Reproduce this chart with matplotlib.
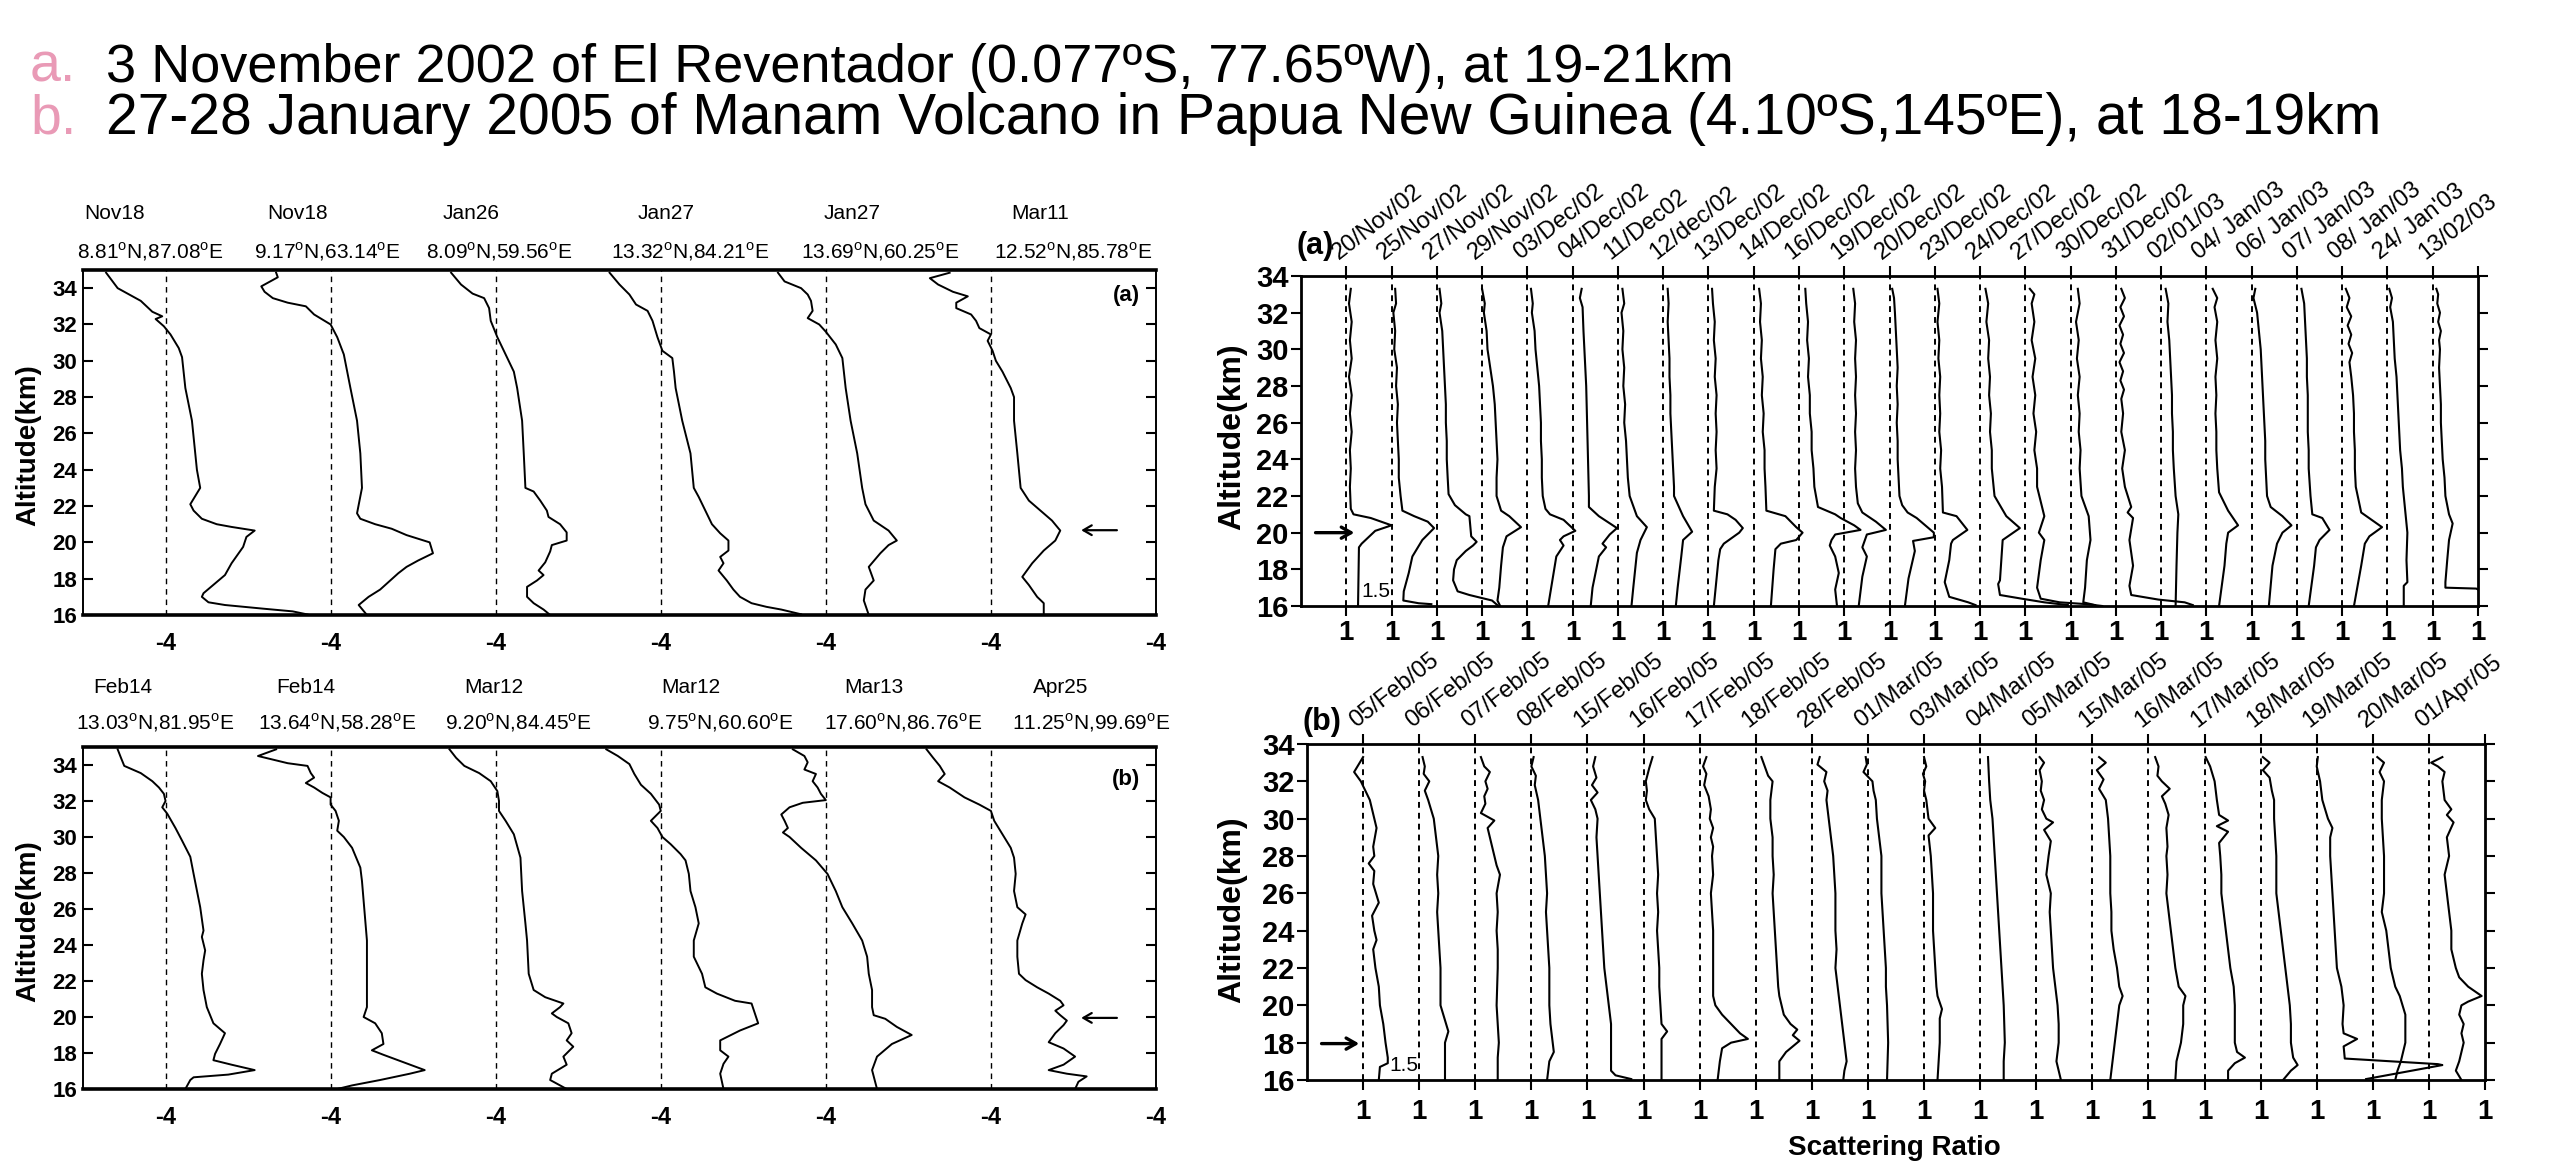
import matplotlib
matplotlib.use('Agg')
import matplotlib.pyplot as plt
import numpy as np

plt.rcParams['font.family'] = ['Liberation Sans', 'DejaVu Sans']
plt.rcParams['mathtext.fontset'] = 'custom'
plt.rcParams['mathtext.rm'] = 'Liberation Sans'

# ---------------- titles ----------------
TITLE_A = '3 November 2002 of El Reventador (0.077\u00baS, 77.65\u00baW), at 19-21km'
TITLE_B = '27-28 January 2005 of Manam Volcano in Papua New Guinea (4.10\u00baS,145\u00baE), at 18-19km'

# ---------------- left panels: log10 extinction profiles (ref -4 at each dotted line) ----------------
LA_DATES = ['Nov18', 'Nov18', 'Jan26', 'Jan27', 'Jan27', 'Mar11']
LA_LAT = ['8.81', '9.17', '8.09', '13.32', '13.69', '12.52']
LA_LON = ['87.08', '63.14', '59.56', '84.21', '60.25', '85.78']
LA_PROFILES = [
    [(34.85,-4.36),(34.0,-4.29),(33.3,-4.15),(32.7,-4.08),(32.45,-4.02),(32.3,-4.06),(31.9,-4.01),(31.45,-3.97),(30.7,-3.92),(30.2,-3.90),(28.5,-3.88),(26.7,-3.84),(24.0,-3.81),(23.0,-3.79),(22.1,-3.85),(21.75,-3.83),(21.3,-3.78),(21.0,-3.69),(20.85,-3.60),(20.65,-3.46),(20.3,-3.51),(19.75,-3.53),(18.85,-3.60),(18.2,-3.64),(17.2,-3.77),(17.0,-3.78),(16.7,-3.74),(16.55,-3.64),(16.35,-3.41),(16.2,-3.23),(16.03,-3.14)],
    [(34.85,-4.33),(34.6,-4.32),(34.1,-4.42),(33.8,-4.40),(33.45,-4.35),(33.2,-4.26),(33.0,-4.15),(32.55,-4.10),(32.0,-4.0),(31.3,-3.96),(30.35,-3.92),(28.5,-3.88),(26.7,-3.84),(24.9,-3.82),(23.0,-3.81),(21.6,-3.84),(21.3,-3.82),(21.0,-3.73),(20.75,-3.63),(20.4,-3.54),(20.0,-3.40),(19.4,-3.38),(19.0,-3.47),(18.65,-3.54),(18.3,-3.59),(17.4,-3.70),(17.0,-3.77),(16.55,-3.83),(16.0,-3.78)],
    [(34.85,-4.27),(34.2,-4.21),(33.7,-4.14),(33.45,-4.07),(32.9,-4.04),(32.2,-4.03),(31.3,-3.99),(30.35,-3.94),(29.4,-3.89),(28.5,-3.87),(26.7,-3.84),(24.9,-3.83),(23.0,-3.82),(22.8,-3.77),(22.3,-3.73),(21.75,-3.69),(21.4,-3.68),(21.0,-3.61),(20.55,-3.57),(20.1,-3.57),(19.85,-3.66),(19.5,-3.67),(18.9,-3.70),(18.45,-3.74),(18.2,-3.71),(17.9,-3.75),(17.55,-3.81),(17.0,-3.81),(16.65,-3.77),(16.3,-3.71),(16.0,-3.67)],
    [(34.85,-4.31),(34.2,-4.25),(33.65,-4.19),(33.1,-4.15),(32.75,-4.08),(32.2,-4.05),(31.3,-4.02),(30.55,-3.99),(30.15,-3.93),(29.4,-3.92),(28.5,-3.91),(26.7,-3.87),(24.9,-3.82),(23.0,-3.80),(22.5,-3.77),(21.75,-3.73),(21.0,-3.69),(20.5,-3.64),(20.1,-3.59),(19.55,-3.59),(19.2,-3.64),(18.85,-3.62),(18.45,-3.65),(17.9,-3.60),(17.4,-3.56),(17.0,-3.52),(16.65,-3.45),(16.45,-3.36),(16.3,-3.27),(16.04,-3.15)],
    [(34.85,-4.29),(34.37,-4.25),(34.0,-4.15),(33.65,-4.11),(33.3,-4.09),(32.75,-4.08),(32.35,-4.11),(32.0,-4.04),(31.6,-4.0),(30.9,-3.94),(30.15,-3.90),(28.5,-3.88),(26.7,-3.85),(24.9,-3.81),(23.0,-3.78),(22.1,-3.76),(21.2,-3.71),(20.65,-3.62),(20.1,-3.57),(19.85,-3.62),(19.4,-3.67),(18.65,-3.74),(17.9,-3.71),(17.4,-3.76),(16.8,-3.77),(16.0,-3.74)],
    [(34.85,-4.25),(34.55,-4.37),(34.2,-4.32),(33.8,-4.23),(33.55,-4.14),(33.2,-4.21),(32.9,-4.21),(32.55,-4.12),(32.2,-4.09),(31.8,-4.07),(31.45,-4.0),(31.1,-4.02),(30.55,-3.99),(30.0,-3.97),(29.4,-3.93),(28.5,-3.88),(28.0,-3.86),(26.7,-3.86),(24.9,-3.84),(23.0,-3.82),(22.3,-3.77),(21.75,-3.70),(21.2,-3.63),(20.65,-3.58),(20.1,-3.61),(19.55,-3.68),(18.85,-3.75),(18.1,-3.81),(17.65,-3.77),(17.0,-3.72),(16.65,-3.68),(16.0,-3.68)],
]

LB_DATES = ['Feb14', 'Feb14', 'Mar12', 'Mar12', 'Mar13', 'Apr25']
LB_LAT = ['13.03', '13.64', '9.20', '9.75', '17.60', '11.25']
LB_LON = ['81.95', '58.28', '84.45', '60.60', '86.76', '99.69']
LB_PROFILES = [
    [(34.87,-4.29),(34.4,-4.27),(33.95,-4.25),(33.55,-4.15),(33.1,-4.08),(32.75,-4.04),(32.4,-4.01),(32.0,-4.0),(31.65,-4.02),(31.3,-3.99),(30.5,-3.94),(29.8,-3.90),(28.9,-3.85),(27.95,-3.83),(26.1,-3.79),(24.8,-3.77),(24.45,-3.78),(23.7,-3.76),(23.15,-3.77),(22.4,-3.78),(21.5,-3.77),(20.55,-3.75),(19.65,-3.71),(19.1,-3.64),(18.5,-3.67),(17.95,-3.70),(17.6,-3.71),(17.35,-3.60),(17.05,-3.46),(16.8,-3.62),(16.65,-3.83),(16.5,-3.85),(16.0,-3.88)],
    [(34.87,-4.33),(34.5,-4.44),(34.1,-4.26),(33.95,-4.14),(33.55,-4.12),(33.3,-4.10),(33.0,-4.15),(32.75,-4.10),(32.45,-4.05),(32.2,-4.0),(31.8,-4.0),(31.45,-3.97),(30.9,-3.95),(30.35,-3.96),(30.0,-3.92),(29.4,-3.87),(28.3,-3.82),(27.55,-3.81),(26.45,-3.80),(24.25,-3.78),(22.4,-3.78),(20.55,-3.78),(20.0,-3.80),(19.65,-3.73),(19.1,-3.69),(18.5,-3.68),(18.15,-3.75),(17.9,-3.68),(17.05,-3.43),(16.85,-3.52),(16.5,-3.70),(16.2,-3.87),(16.0,-3.96)],
    [(34.87,-4.28),(34.4,-4.24),(33.95,-4.19),(33.55,-4.10),(33.1,-4.03),(32.55,-3.99),(32.0,-3.98),(31.45,-3.98),(30.9,-3.94),(30.15,-3.89),(28.85,-3.85),(27.0,-3.84),(25.2,-3.82),(24.25,-3.81),(22.4,-3.80),(21.5,-3.77),(21.1,-3.70),(20.75,-3.59),(20.55,-3.61),(20.2,-3.66),(20.0,-3.63),(19.65,-3.56),(19.1,-3.54),(18.7,-3.57),(18.35,-3.53),(17.8,-3.59),(17.35,-3.57),(16.85,-3.66),(16.5,-3.67),(16.0,-3.57)],
    [(34.87,-4.33),(34.5,-4.26),(34.05,-4.19),(33.5,-4.16),(32.9,-4.12),(32.4,-4.06),(31.8,-4.01),(31.45,-4.0),(30.9,-4.06),(30.5,-4.02),(30.0,-3.99),(29.6,-3.94),(29.05,-3.88),(28.7,-3.85),(27.95,-3.83),(27.0,-3.82),(26.1,-3.79),(25.2,-3.77),(24.25,-3.80),(23.35,-3.80),(22.4,-3.75),(21.65,-3.73),(21.3,-3.66),(20.9,-3.55),(20.75,-3.45),(20.2,-3.43),(19.65,-3.41),(19.25,-3.52),(18.7,-3.64),(18.15,-3.64),(17.8,-3.59),(17.4,-3.62),(16.85,-3.64),(16.0,-3.62)],
    [(34.87,-4.20),(34.5,-4.13),(34.15,-4.11),(33.75,-4.13),(33.5,-4.06),(33.1,-4.08),(32.75,-4.05),(32.4,-4.03),(32.05,-4.0),(31.9,-4.14),(31.65,-4.22),(31.25,-4.27),(30.9,-4.25),(30.5,-4.23),(30.25,-4.26),(30.0,-4.22),(29.4,-4.15),(28.7,-4.06),(27.95,-3.99),(27.0,-3.94),(26.1,-3.90),(25.2,-3.84),(24.25,-3.78),(23.35,-3.75),(22.4,-3.74),(21.5,-3.72),(20.55,-3.72),(20.1,-3.71),(19.9,-3.64),(19.45,-3.57),(19.0,-3.48),(18.5,-3.60),(17.8,-3.69),(17.05,-3.72),(16.0,-3.69)],
    [(34.87,-4.39),(34.4,-4.35),(33.95,-4.31),(33.5,-4.28),(33.1,-4.32),(32.75,-4.25),(32.2,-4.16),(31.8,-4.07),(31.45,-4.0),(30.9,-3.98),(30.15,-3.93),(29.4,-3.88),(28.85,-3.86),(27.95,-3.85),(27.0,-3.86),(26.1,-3.84),(25.7,-3.79),(25.2,-3.81),(24.25,-3.84),(23.35,-3.84),(22.4,-3.83),(22.05,-3.79),(21.65,-3.72),(21.3,-3.65),(20.9,-3.58),(20.65,-3.56),(20.35,-3.61),(20.1,-3.58),(19.8,-3.54),(19.55,-3.56),(19.1,-3.61),(18.6,-3.65),(18.25,-3.56),(17.8,-3.49),(17.35,-3.56),(17.05,-3.65),(16.85,-3.54),(16.7,-3.42),(16.4,-3.47),(16.0,-3.49)],
]
LEFT_REF = -4.0
LEFT_TICKLABEL = '-4'

# ---------------- right panels: scattering ratio profiles (1 at each dotted line) ----------------
RA_DATES = ['20/Nov/02', '25/Nov/02', '27/Nov/02', '29/Nov/02', '03/Dec/02', '04/Dec/02', '11/Dec02',
            '12/dec/02', '13/Dec/02', '14/Dec/02', '16/Dec/02', '19/Dec/02', '20/Dec/02', '23/Dec/02',
            '24/Dec/02', '27/Dec/02', '30/Dec/02', '31/Dec/02', '02/01/03', '04/ Jan/03', '06/ Jan/03',
            '07/ Jan/03', '08/ Jan/03', "24/ Jan'03", '13/02/03']
RA_PROFILES = [
    [(33.3,1.05),(32.5,1.03),(31.5,1.06),(30.5,1.04),(29.5,1.06),(28.5,1.03),(27.5,1.06),(26.5,1.04),(25.5,1.06),(24.5,1.04),(23.5,1.05),(22.5,1.04),(21.3,1.05),(21.0,1.08),(20.8,1.27),(20.4,1.5),(20.1,1.32),(19.4,1.17),(19.2,1.14),(16.0,1.13)],
    [(33.3,1.04),(32.5,1.05),(32.0,1.02),(31.0,1.04),(30.0,1.03),(29.0,1.06),(28.0,1.05),(27.0,1.07),(26.0,1.06),(25.0,1.07),(24.0,1.08),(23.0,1.08),(22.0,1.1),(21.2,1.12),(20.9,1.25),(20.6,1.4),(20.25,1.47),(19.6,1.34),(18.7,1.23),(17.8,1.19),(16.8,1.135),(16.3,1.13),(16.15,1.3),(16.1,1.44)],
    [(33.3,1.03),(32.5,1.05),(32.0,1.03),(31.0,1.06),(30.0,1.07),(29.0,1.08),(28.0,1.09),(27.0,1.1),(26.0,1.1),(25.0,1.11),(24.0,1.11),(23.0,1.12),(22.1,1.13),(21.5,1.2),(21.0,1.32),(20.9,1.36),(19.8,1.38),(19.5,1.44),(19.3,1.4),(19.0,1.32),(18.5,1.22),(18.0,1.19),(17.4,1.18),(16.8,1.23),(16.6,1.36),(16.3,1.61),(16.0,1.68)],
    [(33.3,1.0),(32.5,1.03),(32.0,1.02),(31.0,1.05),(30.0,1.06),(29.0,1.09),(28.0,1.12),(27.0,1.14),(26.0,1.15),(25.0,1.16),(24.0,1.17),(23.0,1.16),(22.0,1.16),(21.2,1.21),(20.9,1.3),(20.3,1.43),(19.8,1.27),(19.2,1.23),(18.2,1.21),(17.0,1.19),(16.3,1.17),(16.0,1.2)],
    [(33.3,1.04),(32.5,1.06),(32.0,1.05),(31.0,1.08),(30.0,1.09),(29.0,1.11),(28.0,1.13),(27.0,1.14),(26.0,1.15),(25.0,1.15),(24.0,1.16),(23.0,1.16),(22.0,1.17),(21.3,1.2),(21.0,1.25),(20.7,1.4),(20.1,1.53),(19.8,1.4),(19.6,1.36),(19.3,1.4),(18.7,1.32),(17.5,1.28),(16.0,1.23)],
    [(33.3,1.1),(32.8,1.08),(32.3,1.11),(31.0,1.12),(30.0,1.13),(28.0,1.15),(26.0,1.16),(24.0,1.17),(22.0,1.18),(21.4,1.18),(20.9,1.29),(20.25,1.49),(19.9,1.41),(19.4,1.33),(19.2,1.37),(18.7,1.29),(17.0,1.22),(16.0,1.2)],
    [(33.3,1.05),(32.5,1.07),(32.0,1.04),(31.0,1.06),(30.0,1.05),(29.0,1.07),(28.0,1.06),(27.0,1.08),(26.0,1.07),(25.0,1.09),(24.0,1.1),(23.0,1.11),(22.0,1.13),(20.9,1.21),(20.3,1.32),(19.6,1.25),(18.9,1.21),(17.0,1.17),(16.0,1.15)],
    [(33.3,1.05),(32.5,1.06),(31.5,1.05),(30.5,1.06),(29.5,1.07),(28.5,1.07),(27.5,1.08),(26.5,1.08),(25.5,1.09),(24.5,1.1),(23.5,1.11),(22.5,1.12),(22.0,1.12),(20.9,1.22),(20.05,1.32),(19.6,1.22),(18.7,1.2),(17.0,1.16),(16.0,1.14)],
    [(33.3,1.04),(32.5,1.05),(31.5,1.07),(30.5,1.06),(29.5,1.08),(28.5,1.07),(27.5,1.09),(26.5,1.08),(25.5,1.09),(24.5,1.08),(23.5,1.09),(22.5,1.07),(21.2,1.06),(21.0,1.21),(20.7,1.3),(20.25,1.38),(20.0,1.34),(19.4,1.17),(19.1,1.13),(18.5,1.11),(17.0,1.08),(16.0,1.06)],
    [(33.3,1.06),(32.5,1.08),(31.5,1.07),(30.5,1.09),(29.5,1.08),(28.5,1.1),(27.5,1.09),(26.5,1.11),(25.5,1.1),(24.5,1.12),(23.5,1.12),(22.5,1.13),(21.2,1.14),(20.9,1.35),(20.3,1.47),(20.0,1.54),(19.6,1.47),(19.4,1.3),(19.1,1.24),(18.0,1.22),(16.0,1.19)],
    [(33.3,1.07),(32.5,1.08),(31.5,1.1),(30.5,1.09),(29.5,1.11),(28.5,1.1),(27.5,1.12),(26.5,1.12),(25.5,1.14),(24.5,1.14),(23.5,1.16),(22.5,1.17),(21.4,1.21),(21.0,1.4),(20.8,1.46),(20.4,1.61),(20.15,1.68),(19.9,1.4),(19.6,1.36),(19.3,1.34),(18.7,1.4),(17.8,1.44),(16.9,1.4),(16.0,1.42)],
    [(33.3,1.1),(32.5,1.12),(31.5,1.11),(30.5,1.13),(29.5,1.12),(28.5,1.13),(27.5,1.12),(26.5,1.13),(25.5,1.12),(24.5,1.13),(23.5,1.12),(22.5,1.13),(21.6,1.15),(21.1,1.2),(20.6,1.35),(20.15,1.46),(19.9,1.25),(19.2,1.2),(18.7,1.25),(17.6,1.2),(16.0,1.16)],
    [(33.3,1.03),(32.8,1.05),(32.0,1.06),(31.0,1.07),(30.0,1.08),(29.0,1.09),(28.0,1.08),(27.0,1.09),(26.0,1.08),(25.0,1.09),(24.0,1.09),(23.0,1.1),(22.0,1.11),(21.5,1.14),(21.1,1.2),(20.8,1.3),(20.0,1.49),(19.75,1.49),(19.55,1.26),(19.0,1.28),(17.5,1.21),(16.0,1.17)],
    [(33.3,1.03),(32.5,1.05),(31.5,1.03),(30.5,1.05),(29.5,1.04),(28.5,1.06),(27.5,1.05),(26.5,1.06),(25.5,1.05),(24.5,1.07),(23.5,1.06),(22.5,1.08),(21.1,1.09),(20.9,1.24),(20.15,1.36),(19.6,1.2),(19.4,1.18),(18.5,1.16),(17.3,1.11),(16.5,1.16),(16.2,1.37),(16.05,1.45)],
    [(33.3,1.06),(32.5,1.09),(31.5,1.07),(30.5,1.1),(29.5,1.09),(28.5,1.11),(27.5,1.1),(26.5,1.12),(25.5,1.11),(24.5,1.13),(23.5,1.13),(22.5,1.15),(22.0,1.16),(20.9,1.29),(20.25,1.44),(19.6,1.25),(17.4,1.22),(17.2,1.2),(16.6,1.22),(16.4,1.46),(16.2,1.71),(16.05,1.97)],
    [(33.3,1.05),(33.0,1.1),(32.5,1.07),(31.5,1.1),(30.5,1.07),(29.5,1.11),(28.5,1.08),(27.5,1.11),(26.5,1.09),(25.5,1.12),(24.5,1.1),(23.5,1.13),(22.5,1.13),(20.9,1.21),(20.0,1.15),(19.6,1.21),(18.5,1.17),(17.0,1.13),(16.4,1.17),(16.2,1.38),(16.1,1.68),(16.0,1.85)],
    [(33.3,1.08),(32.5,1.1),(31.5,1.06),(30.5,1.09),(29.5,1.07),(28.5,1.1),(27.5,1.08),(26.5,1.1),(25.5,1.09),(24.5,1.11),(23.5,1.1),(22.0,1.12),(20.9,1.2),(19.6,1.22),(18.5,1.18),(17.0,1.16),(16.2,1.14),(16.05,1.27)],
    [(33.3,1.06),(32.8,1.1),(32.3,1.05),(31.8,1.09),(31.3,1.04),(30.8,1.08),(30.3,1.05),(29.8,1.09),(29.3,1.04),(28.8,1.08),(28.3,1.05),(27.8,1.09),(27.3,1.06),(26.5,1.08),(25.5,1.06),(24.5,1.1),(23.5,1.07),(22.5,1.1),(21.4,1.17),(21.1,1.13),(20.8,1.19),(19.6,1.15),(18.2,1.19),(17.1,1.15),(16.6,1.17),(16.35,1.47),(16.2,1.76),(16.05,1.85)],
    [(33.3,1.05),(32.5,1.08),(31.5,1.07),(30.5,1.09),(29.5,1.1),(28.5,1.11),(27.5,1.12),(26.5,1.12),(25.5,1.13),(24.5,1.13),(23.5,1.14),(22.0,1.16),(21.0,1.19),(20.0,1.18),(18.2,1.17),(16.0,1.16)],
    [(33.3,1.07),(32.8,1.12),(32.3,1.09),(31.5,1.12),(30.5,1.1),(29.5,1.12),(28.5,1.1),(27.5,1.11),(26.5,1.1),(25.5,1.11),(24.5,1.11),(23.5,1.12),(22.2,1.14),(21.2,1.24),(20.4,1.35),(20.0,1.24),(19.4,1.22),(18.2,1.2),(16.0,1.14)],
    [(33.3,1.04),(32.8,1.02),(32.0,1.06),(31.0,1.08),(30.0,1.1),(29.0,1.11),(28.0,1.12),(27.0,1.13),(26.0,1.14),(25.0,1.15),(24.0,1.15),(23.0,1.16),(22.0,1.17),(21.4,1.21),(20.9,1.34),(20.4,1.44),(20.0,1.34),(19.4,1.28),(18.2,1.23),(16.0,1.19)],
    [(33.3,1.05),(32.5,1.08),(31.5,1.09),(30.5,1.1),(29.5,1.11),(28.5,1.11),(27.5,1.12),(26.5,1.12),(25.5,1.12),(24.5,1.13),(23.5,1.13),(22.0,1.15),(21.0,1.17),(20.8,1.28),(20.15,1.36),(19.6,1.25),(19.2,1.21),(18.2,1.19),(16.0,1.13)],
    [(33.3,1.04),(32.8,1.08),(32.3,1.05),(31.8,1.1),(31.3,1.06),(30.8,1.1),(30.3,1.07),(29.8,1.11),(29.3,1.08),(28.5,1.1),(27.5,1.12),(26.5,1.13),(25.5,1.13),(24.5,1.14),(23.5,1.14),(22.5,1.15),(21.1,1.21),(20.3,1.44),(19.8,1.3),(19.4,1.25),(18.2,1.21),(16.0,1.13)],
    [(33.3,1.02),(32.8,1.05),(32.3,1.03),(31.5,1.06),(30.5,1.07),(29.5,1.08),(28.5,1.1),(27.5,1.11),(26.5,1.12),(25.5,1.13),(24.5,1.14),(23.5,1.16),(22.5,1.17),(21.0,1.2),(20.0,1.22),(18.5,1.21),(17.3,1.22),(17.1,1.18),(16.0,1.18)],
    [(33.3,1.04),(33.0,1.06),(32.5,1.05),(32.0,1.08),(31.5,1.06),(31.0,1.09),(30.5,1.07),(30.0,1.08),(29.0,1.07),(28.0,1.08),(27.0,1.09),(26.0,1.09),(25.0,1.1),(24.0,1.11),(23.0,1.13),(22.0,1.14),(21.0,1.18),(20.5,1.22),(19.6,1.18),(18.5,1.16),(17.3,1.14),(17.0,1.14),(16.95,1.48),(16.85,1.52)],
]

RB_DATES = ['05/Feb/05', '06/Feb/05', '07/Feb/05', '08/Feb/05', '15/Feb/05', '16/Feb/05', '17/Feb/05',
            '18/Feb/05', '28/Feb/05', '01/Mar/05', '03/Mar/05', '04/Mar/05', '05/Mar/05', '15/Mar/05',
            '16/Mar/05', '17/Mar/05', '18/Mar/05', '19/Mar/05', '20/Mar/05', '01/Apr/05']
RB_PROFILES = [
    [(33.3,1.0),(32.9,0.96),(32.5,0.92),(32.0,0.98),(31.5,1.02),(31.0,1.06),(30.0,1.10),(29.5,1.12),(28.5,1.09),(28.0,1.10),(27.6,1.05),(27.2,1.10),(26.5,1.09),(25.5,1.14),(24.8,1.08),(24.0,1.10),(23.5,1.12),(23.0,1.09),(22.0,1.11),(21.0,1.14),(20.0,1.15),(19.0,1.18),(18.0,1.20),(17.2,1.22),(16.9,1.22),(16.7,1.15),(16.0,1.14)],
    [(33.3,1.03),(32.8,1.05),(32.4,1.04),(32.0,1.09),(31.5,1.05),(31.0,1.08),(30.0,1.13),(29.0,1.15),(28.0,1.17),(27.0,1.16),(26.0,1.17),(25.0,1.16),(24.0,1.17),(23.0,1.18),(22.0,1.19),(21.0,1.19),(20.0,1.19),(19.2,1.23),(18.6,1.26),(18.0,1.23),(17.0,1.23),(16.0,1.23)],
    [(33.3,1.05),(32.8,1.08),(32.5,1.13),(32.0,1.09),(31.6,1.11),(31.2,1.08),(30.8,1.09),(30.3,1.05),(29.9,1.17),(29.5,1.11),(28.5,1.15),(27.5,1.19),(27.0,1.22),(26.0,1.19),(25.0,1.2),(24.0,1.19),(23.0,1.2),(22.0,1.2),(20.0,1.19),(19.0,1.2),(18.0,1.21),(17.2,1.2),(16.0,1.2)],
    [(33.3,1.02),(32.8,1.0),(32.3,1.04),(31.8,1.03),(31.0,1.06),(30.0,1.08),(29.0,1.1),(28.0,1.12),(27.0,1.13),(26.0,1.14),(25.0,1.13),(24.0,1.14),(23.0,1.15),(22.0,1.16),(21.0,1.16),(20.0,1.16),(19.0,1.17),(18.5,1.18),(17.5,1.2),(17.0,1.16),(16.0,1.14)],
    [(33.3,1.07),(32.8,1.05),(32.2,1.08),(31.8,1.04),(31.4,1.09),(31.0,1.03),(30.5,1.07),(30.0,1.09),(29.0,1.08),(28.0,1.09),(27.0,1.1),(26.0,1.11),(25.0,1.12),(24.0,1.13),(23.0,1.14),(22.0,1.15),(21.0,1.17),(20.0,1.19),(19.0,1.21),(17.5,1.21),(16.5,1.21),(16.25,1.25),(16.05,1.39)],
    [(33.3,1.08),(32.7,1.05),(32.0,1.02),(31.5,1.03),(31.0,1.02),(30.5,1.05),(30.0,1.1),(29.0,1.11),(28.0,1.12),(27.0,1.13),(26.0,1.12),(25.0,1.13),(24.0,1.12),(23.0,1.13),(22.0,1.14),(21.0,1.14),(20.0,1.15),(19.0,1.16),(18.6,1.21),(18.2,1.16),(17.0,1.16),(16.0,1.16)],
    [(33.3,1.06),(32.8,1.03),(32.4,1.06),(31.8,1.04),(31.2,1.08),(30.5,1.1),(30.0,1.09),(29.5,1.12),(29.0,1.1),(28.5,1.12),(28.0,1.11),(27.0,1.12),(26.0,1.1),(25.0,1.11),(24.0,1.12),(23.0,1.12),(22.0,1.12),(20.5,1.12),(20.0,1.14),(19.5,1.2),(19.0,1.28),(18.5,1.36),(18.2,1.43),(18.0,1.28),(17.7,1.2),(17.0,1.18),(16.0,1.16)],
    [(33.3,1.05),(32.8,1.08),(32.3,1.11),(32.0,1.15),(31.0,1.13),(30.0,1.13),(29.0,1.15),(28.0,1.15),(27.0,1.16),(26.0,1.15),(25.0,1.16),(24.0,1.17),(23.0,1.18),(22.0,1.19),(21.0,1.2),(20.5,1.21),(20.0,1.23),(19.5,1.25),(19.0,1.31),(18.7,1.37),(18.4,1.33),(18.1,1.39),(17.5,1.27),(17.0,1.21),(16.0,1.21)],
    [(33.3,1.07),(32.9,1.05),(32.5,1.13),(32.0,1.11),(31.5,1.14),(31.0,1.13),(30.0,1.15),(29.0,1.17),(28.0,1.19),(27.0,1.2),(26.0,1.21),(25.0,1.21),(24.0,1.21),(23.0,1.22),(22.0,1.21),(21.0,1.23),(20.0,1.25),(19.0,1.27),(18.0,1.29),(17.0,1.31),(16.5,1.29),(16.0,1.28)],
    [(33.3,0.98),(32.9,0.99),(32.5,0.96),(32.0,1.04),(31.5,1.05),(31.0,1.07),(30.0,1.08),(29.0,1.1),(28.0,1.12),(27.0,1.12),(26.0,1.12),(25.0,1.13),(24.0,1.14),(23.0,1.15),(22.0,1.16),(21.0,1.16),(20.0,1.17),(18.0,1.18),(16.0,1.17)],
    [(33.3,1.0),(32.8,1.02),(32.4,0.99),(32.0,1.01),(31.5,1.0),(31.0,1.02),(30.5,1.03),(30.0,1.04),(29.5,1.1),(29.1,1.04),(28.0,1.06),(27.0,1.07),(26.0,1.08),(25.0,1.08),(24.0,1.08),(23.0,1.09),(22.0,1.1),(21.0,1.11),(20.5,1.12),(19.8,1.16),(19.3,1.14),(18.0,1.14),(17.0,1.13),(16.0,1.12)],
    [(33.3,1.07),(32.0,1.08),(31.0,1.09),(30.0,1.11),(29.0,1.12),(28.0,1.13),(27.0,1.14),(26.0,1.15),(25.0,1.16),(24.0,1.17),(23.0,1.18),(22.0,1.19),(21.0,1.2),(20.0,1.21),(18.0,1.22),(17.0,1.21),(16.0,1.21)],
    [(33.3,1.03),(33.0,1.07),(32.6,1.03),(32.0,1.05),(31.5,1.04),(31.0,1.07),(30.5,1.05),(30.0,1.09),(29.8,1.15),(29.4,1.07),(28.8,1.13),(28.0,1.11),(27.0,1.09),(26.0,1.13),(25.0,1.12),(24.0,1.13),(23.0,1.14),(22.0,1.15),(21.0,1.17),(20.0,1.19),(19.0,1.2),(18.0,1.2),(17.0,1.18),(16.5,1.2),(16.0,1.22)],
    [(33.3,1.06),(33.0,1.12),(32.6,1.04),(32.1,1.1),(31.6,1.06),(31.0,1.12),(30.0,1.14),(29.0,1.15),(28.0,1.16),(27.0,1.16),(26.0,1.16),(25.0,1.17),(24.0,1.17),(23.0,1.19),(22.0,1.22),(21.0,1.24),(20.5,1.27),(20.0,1.24),(19.0,1.22),(18.0,1.2),(17.0,1.18),(16.0,1.16)],
    [(33.3,1.06),(32.8,1.09),(32.3,1.08),(32.0,1.12),(31.6,1.19),(31.2,1.12),(30.8,1.15),(30.2,1.18),(29.5,1.16),(28.5,1.17),(28.0,1.16),(27.0,1.17),(26.0,1.16),(25.0,1.18),(24.0,1.2),(23.0,1.22),(22.0,1.24),(21.0,1.27),(20.5,1.33),(20.0,1.31),(19.0,1.31),(18.0,1.29),(17.0,1.25),(16.0,1.24)],
    [(33.3,1.01),(32.8,1.05),(32.0,1.09),(31.0,1.11),(30.2,1.13),(29.9,1.21),(29.6,1.11),(29.3,1.21),(28.7,1.13),(28.0,1.14),(27.0,1.15),(26.0,1.15),(25.0,1.17),(24.0,1.19),(23.0,1.21),(22.0,1.23),(21.0,1.26),(20.0,1.27),(19.0,1.27),(18.0,1.27),(17.5,1.29),(17.2,1.36),(16.9,1.27),(16.5,1.21),(16.0,1.21)],
    [(33.3,1.02),(33.0,1.08),(32.6,1.02),(32.2,1.08),(31.5,1.1),(31.0,1.12),(30.0,1.12),(29.0,1.13),(28.0,1.14),(27.0,1.14),(26.0,1.14),(25.0,1.16),(24.0,1.18),(23.0,1.2),(22.0,1.22),(21.0,1.24),(20.0,1.26),(19.0,1.27),(18.0,1.27),(17.2,1.29),(16.8,1.33),(16.5,1.27),(16.0,1.2)],
    [(33.3,1.01),(32.8,1.0),(32.0,1.03),(31.0,1.05),(30.0,1.1),(29.5,1.14),(29.0,1.12),(28.0,1.12),(27.0,1.13),(26.0,1.14),(25.0,1.15),(24.0,1.16),(23.0,1.17),(22.0,1.18),(21.0,1.22),(20.0,1.24),(19.0,1.23),(18.5,1.24),(18.2,1.36),(17.8,1.24),(17.15,1.25),(16.85,2.08),(16.8,2.12),(16.05,1.44)],
    [(33.3,1.04),(33.0,1.1),(32.5,1.06),(32.0,1.1),(31.0,1.08),(30.0,1.08),(29.0,1.09),(28.0,1.1),(27.0,1.1),(26.0,1.1),(25.0,1.08),(24.0,1.12),(23.0,1.14),(22.0,1.16),(21.0,1.2),(20.5,1.24),(19.5,1.29),(18.0,1.29),(17.0,1.25),(16.5,1.22),(16.0,1.2)],
    [(33.3,1.12),(33.0,1.02),(32.8,1.08),(32.5,1.14),(32.0,1.12),(31.0,1.14),(30.5,1.2),(30.2,1.16),(29.8,1.22),(29.0,1.16),(28.0,1.18),(27.0,1.14),(26.0,1.16),(25.0,1.18),(24.0,1.2),(23.0,1.2),(22.0,1.24),(21.5,1.27),(21.0,1.35),(20.5,1.47),(20.2,1.35),(20.0,1.29),(19.5,1.27),(19.0,1.31),(18.5,1.29),(18.0,1.31),(17.5,1.29),(17.0,1.27),(16.5,1.24),(16.0,1.29)],
]
SR_REF = 1.0
SR_PER_SPACING = 0.5
RIGHT_TICKLABEL = '1'

# ---------------- figure ----------------
W, H = 2559, 1167
fig = plt.figure(figsize=(W / 100, H / 100), dpi=100)


def fx(px):
    return px / W


def fy(py):
    return 1 - py / H


# Titles
PINK = '#E99AB6'
fig.text(fx(30), fy(82), 'a.', color=PINK, fontsize=40, va='baseline')
fig.text(fx(106), fy(82), TITLE_A, color='black', fontsize=39, va='baseline')
fig.text(fx(30), fy(134), 'b.', color=PINK, fontsize=40, va='baseline')
fig.text(fx(106), fy(134), TITLE_B, color='black', fontsize=41, va='baseline')


def left_panel(rect, profiles, dates, lats, lons, tag, tag_y, date_x, coord_x, date_yf, coord_yf,
               arrow_alt, ylab_y):
    ax = fig.add_axes([fx(rect[0]), fy(rect[3]), fx(rect[2] - rect[0]), (rect[3] - rect[1]) / H])
    n = len(profiles)
    ax.set_xlim(-0.5, n)
    ax.set_ylim(16, 35)
    for k in range(n):
        ax.axvline(k, color='black', lw=1.0, ls=(0, (4, 3.5)), zorder=1)
    for k, prof in enumerate(profiles):
        alts = [p[0] for p in prof]
        vals = [p[1] for p in prof]
        ax.plot(k + (np.array(vals) - LEFT_REF), alts, color='black', lw=1.4, zorder=3)
    ax.set_xticks(range(n + 1))
    ax.set_xticklabels([LEFT_TICKLABEL] * (n + 1), fontweight='bold', fontsize=17)
    ax.set_yticks(range(16, 35, 2))
    ax.set_yticklabels([str(v) for v in range(16, 35, 2)], fontweight='bold', fontsize=16)
    ax.tick_params(axis='x', length=0, pad=12)
    ax.tick_params(axis='y', direction='in', left=True, right=True, length=7, width=1.5, pad=4)
    for s in ['top', 'bottom']:
        ax.spines[s].set_linewidth(2.6)
    for s in ['left', 'right']:
        ax.spines[s].set_linewidth(1.4)
    ax.text(0.985, tag_y, tag, transform=ax.transAxes, ha='right', va='center',
            fontsize=16, fontweight='bold')
    for k in range(n):
        ax.text(date_x[k], date_yf, dates[k], transform=ax.get_xaxis_transform(),
                ha='center', va='center', fontsize=15)
        ax.text(coord_x[k], coord_yf, lats[k] + r'$^{\rm o}$N,' + lons[k] + r'$^{\rm o}$E',
                transform=ax.get_xaxis_transform(), ha='center', va='center', fontsize=15)
    ax.annotate('', xy=(5.53, arrow_alt), xytext=(5.78, arrow_alt),
                arrowprops=dict(arrowstyle='->,head_length=0.6,head_width=0.35', color='black', lw=1.6))
    fig.text(fx(28), fy(ylab_y), 'Altitude(km)', rotation=90, ha='center', va='center',
             fontsize=20, fontweight='bold')
    return ax


LA_DATE_X = [-0.31, 0.80, 1.85, 3.03, 4.16, 5.30]
LA_COORD_X = [-0.09, 0.98, 2.02, 3.18, 4.33, 5.50]
LB_DATE_X = [-0.26, 0.85, 1.99, 3.18, 4.29, 5.42]
LB_COORD_X = [-0.06, 1.04, 2.14, 3.36, 4.47, 5.61]

left_panel((83, 270, 1156, 615), LA_PROFILES, LA_DATES, LA_LAT, LA_LON, '(a)', 0.925,
           LA_DATE_X, LA_COORD_X, 1.165, 1.052, 20.67, 445)
left_panel((83, 747, 1156, 1089), LB_PROFILES, LB_DATES, LB_LAT, LB_LON, '(b)', 0.905,
           LB_DATE_X, LB_COORD_X, 1.175, 1.07, 19.95, 921)


def right_panel(rect, profiles, dates, tag, tag_y, arrow_alt, arrow_x, label_pad, ylab_y):
    ax = fig.add_axes([fx(rect[0]), fy(rect[3]), fx(rect[2] - rect[0]), (rect[3] - rect[1]) / H])
    n = len(profiles)
    ax.set_xlim(0, n + 1)
    ax.set_ylim(16, 34)
    for k in range(1, n + 1):
        ax.axvline(k, color='black', lw=1.4, ls=(0, (3, 2.6)), zorder=1)
    for k, prof in enumerate(profiles):
        alts = [p[0] for p in prof]
        vals = [p[1] for p in prof]
        ax.plot((k + 1) + (np.array(vals) - SR_REF) / SR_PER_SPACING, alts, color='black',
                lw=1.5, zorder=3)
    ax.set_xticks(range(1, n + 2))
    ax.set_xticklabels([RIGHT_TICKLABEL] * (n + 1), fontweight='bold', fontsize=20)
    ax.set_yticks(range(16, 35, 2))
    ax.set_yticklabels([str(v) for v in range(16, 35, 2)], fontweight='bold', fontsize=21)
    ax.tick_params(axis='x', direction='out', top=True, bottom=True, length=7, width=1.5,
                   pad=label_pad)
    ax.tick_params(axis='y', direction='out', left=True, right=True, length=7, width=1.5, pad=2)
    for s in ax.spines.values():
        s.set_linewidth(2.0)
    for k in range(n):
        ax.annotate(dates[k], xy=(k + 1, 1.0), xycoords=('data', 'axes fraction'),
                    xytext=(-3, 9), textcoords='offset points', rotation=38,
                    rotation_mode='anchor', ha='left', va='bottom', fontsize=17)
    ax.text(-0.004, tag_y, tag, transform=ax.transAxes, ha='left', va='bottom',
            fontsize=22, fontweight='bold')
    ax.text(1.98, 16.25, '1.5', ha='right', va='bottom', fontsize=15)
    ax.annotate('', xy=(arrow_x[1], arrow_alt), xytext=(arrow_x[0], arrow_alt),
                arrowprops=dict(arrowstyle='->,head_length=0.7,head_width=0.4', color='black', lw=2.4))
    fig.text(fx(1232), fy(ylab_y), 'Altitude(km)', rotation=90, ha='center', va='center',
             fontsize=23, fontweight='bold')
    return ax


right_panel((1301, 276, 2478, 606), RA_PROFILES, RA_DATES, '(a)', 1.045, 20.0, (0.26, 1.24), 3, 437)
right_panel((1307, 744, 2485, 1080), RB_PROFILES, RB_DATES, '(b)', 1.02, 17.95, (0.21, 0.98), 7, 910)

fig.text(fx(1894), fy(1148), 'Scattering Ratio', ha='center', va='center', fontsize=20,
         fontweight='bold')

fig.savefig('out.png', dpi=100)
